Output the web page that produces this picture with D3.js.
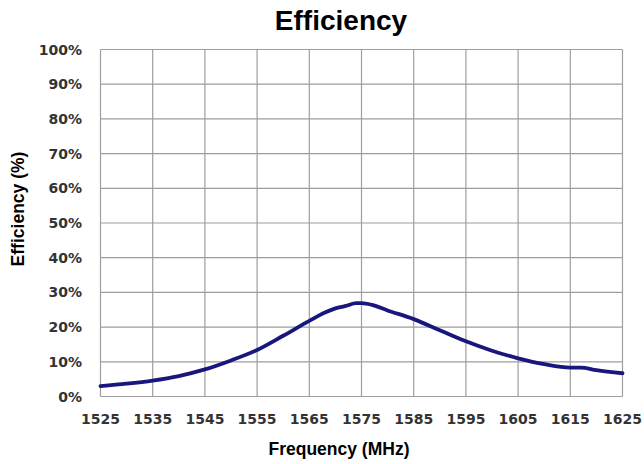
<!DOCTYPE html>
<html>
<head>
  <meta charset="utf-8">
  <title>Efficiency</title>
  <style>
    body { margin: 0; background: #fff; }
  </style>
</head>
<body>
  <script src="https://cdn.jsdelivr.net/npm/d3@7"></script>
  <script>

      // frequency (MHz) / efficiency (%)
      var freq = [1525, 1530, 1535, 1540, 1545, 1550, 1555, 1560, 1565, 1568, 1570, 1572, 1574, 1575, 1577, 1580, 1585, 1590, 1595, 1600, 1605, 1610, 1615, 1617, 1620, 1625];
      var eff  = [3.0, 3.7, 4.6, 5.9, 7.8, 10.4, 13.4, 17.5, 21.8, 24.2, 25.4, 26.1, 26.9, 26.9, 26.4, 24.8, 22.3, 19.1, 15.9, 13.2, 11.0, 9.3, 8.3, 8.3, 7.6, 6.7];

      var xTicks = [1525, 1535, 1545, 1555, 1565, 1575, 1585, 1595, 1605, 1615, 1625];
      var yTicks = [0, 10, 20, 30, 40, 50, 60, 70, 80, 90, 100];

      var w = 644;
      var h = 464;
      var pLeft = 100.5, pRight = 622.5, pTop = 49.5, pBottom = 396.5;

      var svg = d3.select("body").append("svg").attr("width", w).attr("height", h);

      var x = d3.scaleLinear().domain([1525, 1625]).range([pLeft, pRight]);
      var y = d3.scaleLinear().domain([0, 100]).range([pBottom, pTop]);

      // grid
      svg.append("g")
        .selectAll("line")
        .data(xTicks)
        .enter()
        .append("line")
        .attr("x1", function(d){ return x(d); })
        .attr("x2", function(d){ return x(d); })
        .attr("y1", pTop)
        .attr("y2", pBottom)
        .attr("stroke", "#9e9e9e")
        .attr("stroke-width", 1.2);

      svg.append("g")
        .selectAll("line")
        .data(yTicks)
        .enter()
        .append("line")
        .attr("x1", pLeft)
        .attr("x2", pRight)
        .attr("y1", function(d){ return y(d); })
        .attr("y2", function(d){ return y(d); })
        .attr("stroke", "#9e9e9e")
        .attr("stroke-width", 1.2);

      // tick labels
      svg.append("g")
        .selectAll("text")
        .data(yTicks)
        .enter()
        .append("text")
        .attr("x", 82)
        .attr("y", function(d){ return y(d) + 5; })
        .attr("text-anchor", "end")
        .attr("font-family", "DejaVu Sans")
        .attr("font-weight", "bold")
        .attr("font-size", 14)
        .attr("fill", "#333")
        .text(function(d){ return d + "%"; });

      svg.append("g")
        .selectAll("text")
        .data(xTicks)
        .enter()
        .append("text")
        .attr("x", function(d){ return x(d); })
        .attr("y", 424)
        .attr("text-anchor", "middle")
        .attr("font-family", "DejaVu Sans")
        .attr("font-weight", "bold")
        .attr("font-size", 14)
        .attr("fill", "#333")
        .text(function(d){ return d; });

      // curve
      var line = d3.line()
        .x(function(d, i){ return x(freq[i]); })
        .y(function(d){ return y(d); })
        .curve(d3.curveMonotoneX);

      svg.append("path")
        .datum(eff)
        .attr("d", line)
        .attr("fill", "none")
        .attr("stroke", "#17177e")
        .attr("stroke-width", 3.8)
        .attr("stroke-linejoin", "round")
        .attr("stroke-linecap", "round");

      // titles
      svg.append("text")
        .attr("x", 341)
        .attr("y", 30)
        .attr("text-anchor", "middle")
        .attr("font-family", "Liberation Sans, Arial")
        .attr("font-weight", "bold")
        .attr("font-size", 28)
        .text("Efficiency");

      svg.append("text")
        .attr("x", 339)
        .attr("y", 455)
        .attr("text-anchor", "middle")
        .attr("font-family", "Liberation Sans, Arial")
        .attr("font-weight", "bold")
        .attr("font-size", 17.5)
        .text("Frequency (MHz)");

      svg.append("text")
        .attr("transform", "translate(24,209) rotate(-90)")
        .attr("text-anchor", "middle")
        .attr("font-family", "Liberation Sans, Arial")
        .attr("font-weight", "bold")
        .attr("font-size", 17.5)
        .text("Efficiency (%)");

  </script>
</body>
</html>
